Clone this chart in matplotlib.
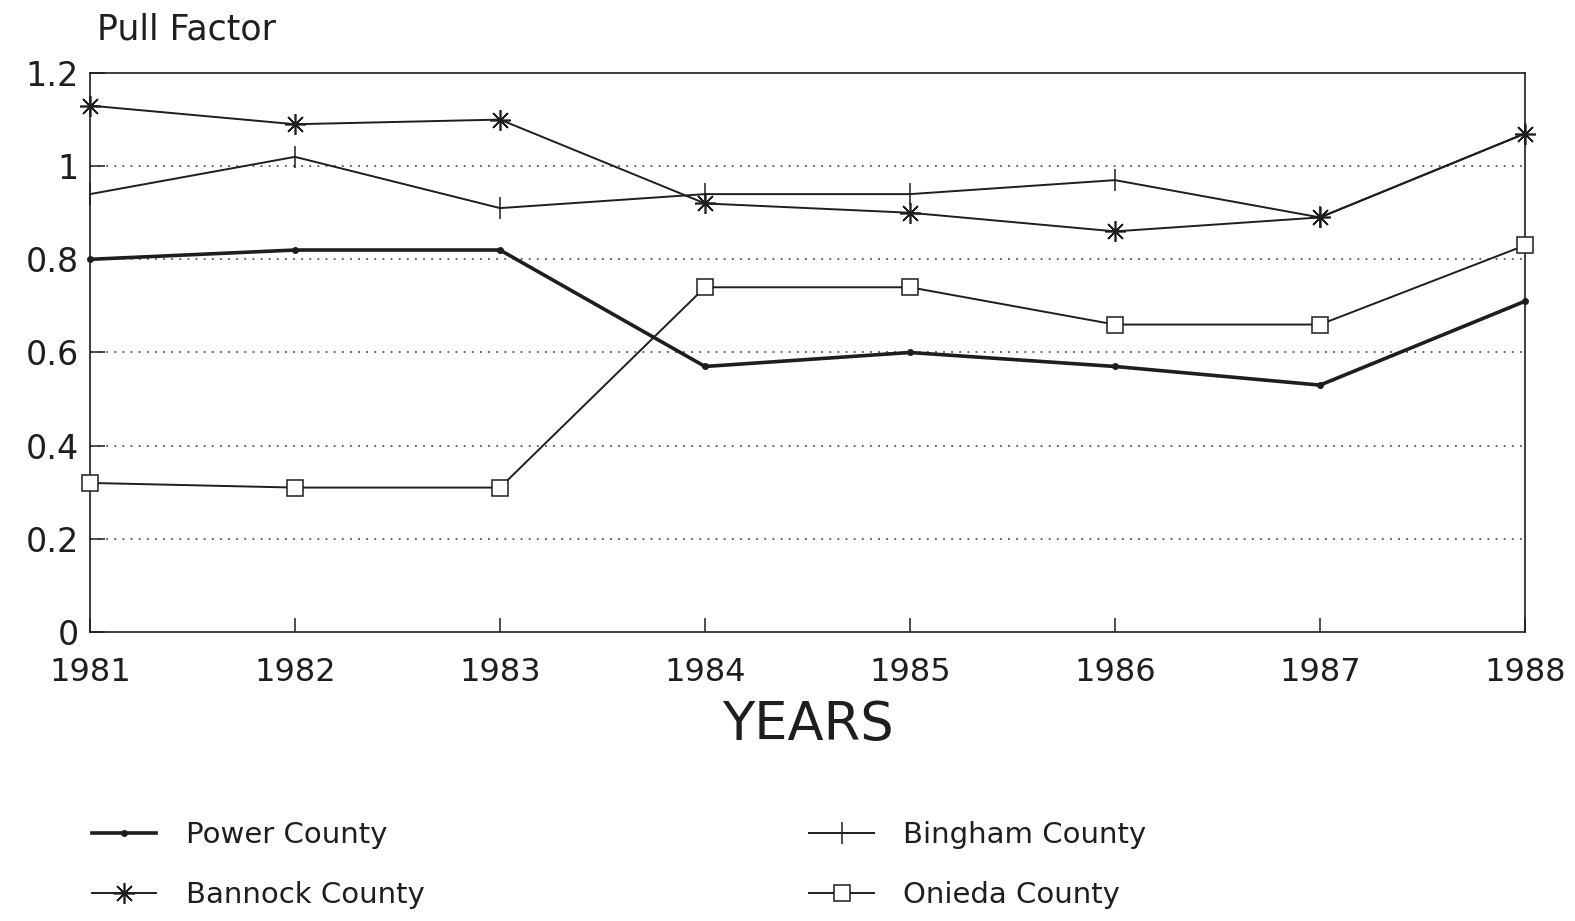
import matplotlib
matplotlib.use("Agg")
import matplotlib.pyplot as plt

years = [1981, 1982, 1983, 1984, 1985, 1986, 1987, 1988]
power = [0.80, 0.82, 0.82, 0.57, 0.60, 0.57, 0.53, 0.71]
bannock = [1.13, 1.09, 1.10, 0.92, 0.90, 0.86, 0.89, 1.07]
bingham = [0.94, 1.02, 0.91, 0.94, 0.94, 0.97, 0.89, 1.07]
onieda = [0.32, 0.31, 0.31, 0.74, 0.74, 0.66, 0.66, 0.83]

yticks = [0, 0.2, 0.4, 0.6, 0.8, 1.0, 1.2]
ytick_labels = ["0", "0.2", "0.4", "0.6", "0.8", "1", "1.2"]

plt.rcParams['font.family'] = ['DejaVu Sans']
ink = '#1e1e1e'

fig = plt.figure(figsize=(15.75, 9.21), dpi=100)
ax = fig.add_axes([90/1575, 1 - 632/921, (1525-90)/1575, (632-73)/921])

# dotted grid at the inner ticks
for v in yticks[1:-1]:
    ax.axhline(v, color='#555555', lw=1.3, ls=(0, (1, 3.5)), zorder=1)

ax.plot(years, power, color=ink, lw=2.6, marker='o', ms=4, label='Power County',
        zorder=3, clip_on=False)
ax.plot(years, bannock, color=ink, lw=1.4, marker=(8, 2, 0), ms=15, mew=1.2,
        label='Bannock County', zorder=3, clip_on=False)
ax.plot(years, bingham, color=ink, lw=1.4, marker='|', ms=16, mew=1.1,
        label='Bingham County', zorder=3, clip_on=False)
ax.plot(years, onieda, color=ink, lw=1.4, marker='s', ms=11, mfc='white', mew=1.1,
        label='Onieda County', zorder=3, clip_on=False)

ax.set_xlim(1981, 1988)
ax.set_ylim(0, 1.2)
ax.set_xticks(years)
ax.set_xticklabels([str(y) for y in years], fontsize=23, color=ink)
ax.set_yticks(yticks)
ax.set_yticklabels(ytick_labels, fontsize=24, color=ink)
ax.tick_params(axis='x', direction='in', length=10, width=1.1, pad=18, color=ink)
ax.tick_params(axis='y', direction='in', length=11, width=1.1, pad=8, color=ink)
for s in ax.spines.values():
    s.set_linewidth(1.2)
    s.set_color(ink)

ax.set_xlabel('YEARS', fontsize=38, color=ink, labelpad=8)
fig.text(97/1575, 1 - 30/921, 'Pull Factor', fontsize=25, color=ink, va='center', ha='left')

fig.legend(loc='upper left', bbox_to_anchor=(66/1575, 1 - 795/921), ncol=2,
           frameon=False, fontsize=21, handlelength=2.2, handletextpad=1.0,
           columnspacing=13.2, labelspacing=1.1, labelcolor=ink)

plt.savefig('out.png', dpi=100, facecolor='white')
